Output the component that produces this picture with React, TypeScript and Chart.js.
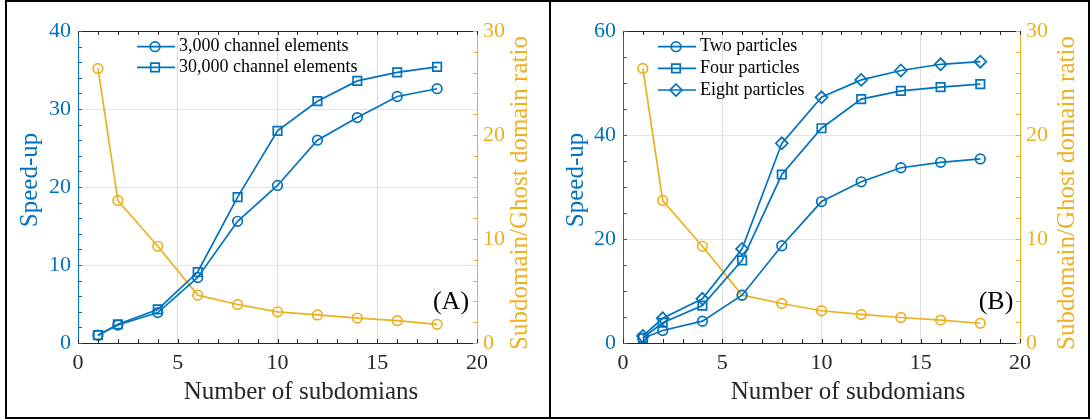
import React, { useEffect, useRef } from 'react';
import { Chart, registerables } from 'chart.js';

Chart.register(...registerables);

// ---------- data ----------
const subdomains = [1, 2, 4, 6, 8, 10, 12, 14, 16, 18];

const speedup3k = [1.0, 2.3, 3.9, 8.4, 15.6, 20.2, 26.0, 28.9, 31.6, 32.6];
const speedup30k = [1.0, 2.4, 4.3, 9.1, 18.7, 27.2, 31.0, 33.6, 34.7, 35.4];
const ratioA = [26.4, 13.7, 9.3, 4.6, 3.7, 3.0, 2.7, 2.4, 2.15, 1.8];

const speedupTwo = [0.9, 2.4, 4.2, 9.2, 18.7, 27.2, 31.0, 33.7, 34.75, 35.4];
const speedupFour = [1.0, 3.9, 7.2, 15.9, 32.4, 41.3, 46.9, 48.5, 49.2, 49.8];
const speedupEight = [1.35, 4.75, 8.5, 18.1, 38.4, 47.25, 50.6, 52.4, 53.6, 54.1];
const ratioB = [26.4, 13.7, 9.3, 4.6, 3.8, 3.1, 2.75, 2.45, 2.2, 1.9];

const labelsA = ['3,000 channel elements', '30,000 channel elements'];
const labelsB = ['Two particles', 'Four particles', 'Eight particles'];
const ratioLabel = 'Subdomain/Ghost domain ratio';
const xTitle = 'Number of subdomians';
const yTitle = 'Speed-up';

// ---------- styles ----------
const BLUE = '#0072BD';
const ORANGE = '#EDB120';
const AXIS = '#262626';
const FONT = "'Liberation Serif'";
const LW = 1.7;

type PanelCfg = {
  left: number; top: number; width: number; height: number;
  yWidth: number; y1Width: number; xHeight: number; padTop: number;
  yMax: number; yStep: number; yMinor: number;
  series: { label: string; data: number[]; style: string; radius: number }[];
  ratio: number[];
  legendX: number; legendRows: number[];
  panelLabel: string; panelLabelX: number; panelLabelY: number;
  yTitleX: number; y1TitleX: number; yTitleY: number; y1TitleY: number;
  xTitleX: number; xTitleY: number;
};

function drawMarker(ctx: CanvasRenderingContext2D, style: string, x: number, y: number, r: number) {
  ctx.beginPath();
  if (style === 'circle') {
    ctx.arc(x, y, r, 0, Math.PI * 2);
  } else if (style === 'rect') {
    const s = r * Math.SQRT1_2;
    ctx.rect(x - s, y - s, 2 * s, 2 * s);
  } else {
    ctx.moveTo(x, y - r);
    ctx.lineTo(x + r, y);
    ctx.lineTo(x, y + r);
    ctx.lineTo(x - r, y);
    ctx.closePath();
  }
  ctx.stroke();
}

function makeDecor(cfg: PanelCfg) {
  return {
    id: 'decor',
    afterDraw(chart: any) {
      const { ctx, chartArea: ca, scales } = chart;
      const al = (v: number) => Math.round(v) + 0.5;
      ctx.save();
      ctx.lineWidth = 1;
      ctx.strokeStyle = AXIS;
      ctx.beginPath();
      ctx.moveTo(ca.left, al(ca.top));
      ctx.lineTo(ca.right, al(ca.top));
      ctx.stroke();
      const tl = 4;
      for (let v = 0; v <= 20; v += 1) {
        const px = al(scales.x.getPixelForValue(v));
        ctx.beginPath();
        ctx.moveTo(px, ca.bottom);
        ctx.lineTo(px, ca.bottom - tl);
        ctx.moveTo(px, ca.top);
        ctx.lineTo(px, ca.top + tl);
        ctx.stroke();
      }
      ctx.strokeStyle = BLUE;
      for (let v = 0; v <= cfg.yMax; v += cfg.yMinor) {
        const py = al(scales.y.getPixelForValue(v));
        ctx.beginPath();
        ctx.moveTo(ca.left, py);
        ctx.lineTo(ca.left + tl, py);
        ctx.stroke();
      }
      ctx.strokeStyle = ORANGE;
      for (let v = 0; v <= 30; v += 2) {
        const py = al(scales.y1.getPixelForValue(v));
        ctx.beginPath();
        ctx.moveTo(ca.right, py);
        ctx.lineTo(ca.right - tl, py);
        ctx.stroke();
      }
      ctx.font = `25px ${FONT}`;
      ctx.textAlign = 'center';
      ctx.textBaseline = 'middle';
      ctx.fillStyle = AXIS;
      ctx.fillText(xTitle, cfg.xTitleX, cfg.xTitleY);
      ctx.save();
      ctx.translate(cfg.yTitleX, cfg.yTitleY);
      ctx.rotate(-Math.PI / 2);
      ctx.fillStyle = BLUE;
      ctx.fillText(yTitle, 0, 0);
      ctx.restore();
      ctx.save();
      ctx.translate(cfg.y1TitleX, cfg.y1TitleY);
      ctx.rotate(-Math.PI / 2);
      ctx.fillStyle = ORANGE;
      ctx.fillText(ratioLabel, 0, 0);
      ctx.restore();
      ctx.font = `26px ${FONT}`;
      ctx.fillStyle = '#000';
      ctx.fillText(cfg.panelLabel, cfg.panelLabelX, cfg.panelLabelY);
      ctx.font = `18px ${FONT}`;
      ctx.textAlign = 'left';
      ctx.lineWidth = LW;
      cfg.series.forEach((s, i) => {
        const y = cfg.legendRows[i];
        ctx.strokeStyle = BLUE;
        ctx.beginPath();
        ctx.moveTo(cfg.legendX, y);
        ctx.lineTo(cfg.legendX + 38, y);
        ctx.stroke();
        drawMarker(ctx, s.style, cfg.legendX + 18, y, s.radius);
        ctx.fillStyle = '#000';
        ctx.fillText(s.label, cfg.legendX + 42, y);
      });
      ctx.restore();
    },
  };
}

function Panel({ cfg }: { cfg: PanelCfg }) {
  const ref = useRef<HTMLCanvasElement | null>(null);
  useEffect(() => {
    let chart: Chart | null = null;
    let cancelled = false;
    const build = () => {
      if (cancelled || !ref.current) return;
      const datasets: any[] = cfg.series.map((s) => ({
        label: s.label,
        data: s.data,
        yAxisID: 'y',
        borderColor: BLUE,
        borderWidth: LW,
        pointStyle: s.style === 'diamond' ? 'rectRot' : s.style,
        pointRadius: s.radius,
        pointBorderWidth: LW,
        pointBorderColor: BLUE,
        pointBackgroundColor: 'rgba(0,0,0,0)',
        tension: 0,
      }));
      datasets.push({
        label: ratioLabel,
        data: cfg.ratio,
        yAxisID: 'y1',
        borderColor: ORANGE,
        borderWidth: LW,
        pointStyle: 'circle',
        pointRadius: 4.8,
        pointBorderWidth: LW,
        pointBorderColor: ORANGE,
        pointBackgroundColor: 'rgba(0,0,0,0)',
        tension: 0,
      });
      chart = new Chart(ref.current, {
        type: 'line',
        data: {
          labels: subdomains,
          datasets: datasets.map((d) => ({ ...d, data: d.data.map((v: number, i: number) => ({ x: subdomains[i], y: v })) })),
        },
        options: {
          responsive: false,
          animation: false,
          layout: { padding: { top: cfg.padTop, left: 0, right: 0, bottom: 0 } },
          plugins: { legend: { display: false }, tooltip: { enabled: false } },
          scales: {
            x: {
              type: 'linear',
              min: 0,
              max: 20,
              afterFit: (s: any) => { s.height = cfg.xHeight; },
              ticks: { stepSize: 5, color: AXIS, font: { family: FONT, size: 22 }, padding: 7, maxRotation: 0 },
              grid: {
                drawTicks: false,
                color: (c: any) => (c.tick && (c.tick.value === 0 || c.tick.value === 20) ? 'rgba(0,0,0,0)' : '#dcdcdc'),
              },
              border: { display: true, color: AXIS, width: 1 },
            },
            y: {
              type: 'linear',
              position: 'left',
              min: 0,
              max: cfg.yMax,
              afterFit: (s: any) => { s.width = cfg.yWidth; },
              ticks: { stepSize: cfg.yStep, color: BLUE, font: { family: FONT, size: 22 }, padding: 7 },
              grid: {
                drawTicks: false,
                color: (c: any) => (c.tick && (c.tick.value === 0 || c.tick.value === cfg.yMax) ? 'rgba(0,0,0,0)' : '#d8e7f3'),
              },
              border: { display: true, color: BLUE, width: 1 },
            },
            y1: {
              type: 'linear',
              position: 'right',
              min: 0,
              max: 30,
              afterFit: (s: any) => { s.width = cfg.y1Width; },
              ticks: { stepSize: 10, color: ORANGE, font: { family: FONT, size: 22 }, padding: 6 },
              grid: { drawTicks: false, drawOnChartArea: false },
              border: { display: true, color: ORANGE, width: 1 },
            },
          },
        } as any,
        plugins: [makeDecor(cfg) as any],
      });
    };
    const fonts: any = (document as any).fonts;
    if (fonts && fonts.load) {
      Promise.all([
        fonts.load(`22px ${FONT}`),
        fonts.load(`25px ${FONT}`),
      ]).then(build, build);
    } else {
      build();
    }
    return () => {
      cancelled = true;
      if (chart) chart.destroy();
    };
  }, [cfg]);
  return (
    <canvas
      ref={ref}
      width={cfg.width}
      height={cfg.height}
      style={{ position: 'absolute', left: cfg.left, top: cfg.top, width: cfg.width, height: cfg.height }}
    />
  );
}

const cfgA: PanelCfg = {
  left: 8, top: 3, width: 541, height: 413,
  yWidth: 70, y1Width: 72, xHeight: 73, padTop: 28,
  yMax: 40, yStep: 10, yMinor: 2,
  series: [
    { label: labelsA[0], data: speedup3k, style: 'circle', radius: 4.8 },
    { label: labelsA[1], data: speedup30k, style: 'rect', radius: 6 },
  ],
  ratio: ratioA,
  legendX: 129, legendRows: [43.7, 64.3],
  panelLabel: '(A)', panelLabelX: 443, panelLabelY: 299,
  yTitleX: 22, yTitleY: 177, y1TitleX: 512.5, y1TitleY: 190,
  xTitleX: 293, xTitleY: 389,
};

const cfgB: PanelCfg = {
  left: 553, top: 3, width: 535, height: 413,
  yWidth: 70, y1Width: 68, xHeight: 73, padTop: 28,
  yMax: 60, yStep: 20, yMinor: 5,
  series: [
    { label: labelsB[0], data: speedupTwo, style: 'circle', radius: 4.8 },
    { label: labelsB[1], data: speedupFour, style: 'rect', radius: 6 },
    { label: labelsB[2], data: speedupEight, style: 'diamond', radius: 6 },
  ],
  ratio: ratioB,
  legendX: 105, legendRows: [43.7, 65.4, 87],
  panelLabel: '(B)', panelLabelX: 443, panelLabelY: 299,
  yTitleX: 23.6, yTitleY: 177, y1TitleX: 514.6, y1TitleY: 190,
  xTitleX: 295, xTitleY: 389,
};

export default function App() {
  return (
    <div style={{ position: 'fixed', left: 0, top: 0, width: 1091, height: 420, background: '#fff' }}>
      <span style={{ fontFamily: 'Liberation Serif', position: 'absolute', left: -1000, top: 0 }}>Aa</span>
      <div style={{ position: 'absolute', left: 5, top: 0, width: 542, height: 415, border: '2px solid #000' }} />
      <div style={{ position: 'absolute', left: 549, top: 0, width: 537, height: 415, border: '2px solid #000' }} />
      <Panel cfg={cfgA} />
      <Panel cfg={cfgB} />
    </div>
  );
}
